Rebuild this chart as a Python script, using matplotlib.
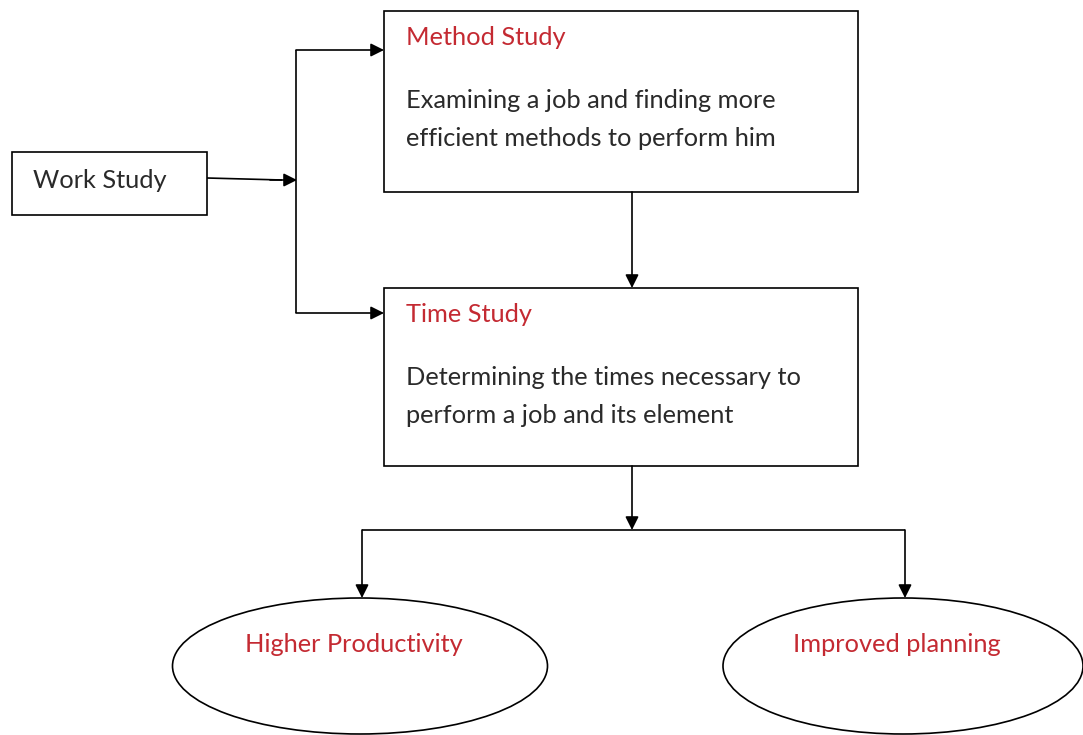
import matplotlib.pyplot as plt
from matplotlib.patches import Rectangle, Ellipse

# texts of the diagram
start_label = "Work Study"
box_titles = ["Method Study", "Time Study"]
box_bodies = [
    ["Examining a job and finding more", "efficient methods to perform him"],
    ["Determining the times necessary to", "perform a job and its element"],
]
outcomes = ["Higher Productivity", "Improved planning"]

RED = '#c42a32'
TXT = '#2a2a2a'
FONT = ['Lato', 'DejaVu Sans']
FS = 18.3
LW = 1.2

fig = plt.figure(figsize=(10.83, 7.35), dpi=100, facecolor='white')
ax = fig.add_axes([0, 0, 1, 1])
ax.set_xlim(0, 1083)
ax.set_ylim(735, 0)
ax.axis('off')


def arrow(x0, y0, x1, y1):
    ax.annotate('', xy=(x1, y1), xytext=(x0, y0),
                arrowprops=dict(arrowstyle='-|>', color='black', lw=LW,
                                mutation_scale=20, shrinkA=0, shrinkB=0))


def line(xs, ys):
    ax.plot(xs, ys, color='black', lw=LW, solid_capstyle='butt')


# work study box
ax.add_patch(Rectangle((12, 152), 195, 63, fill=False, ec='black', lw=LW))
ax.text(33, 180, start_label, fontsize=FS, color=TXT, family=FONT, va='center')

# method / time boxes
boxes = [(384, 11, 474, 181), (384, 288, 474, 178)]
for (x, y, w, h), title, body in zip(boxes, box_titles, box_bodies):
    ax.add_patch(Rectangle((x, y), w, h, fill=False, ec='black', lw=LW))
    ax.text(x + 22, y + 26, title, fontsize=FS, color=RED, family=FONT, va='center')
    for i, ln in enumerate(body):
        ax.text(x + 22, y + 89 + i * 38, ln, fontsize=FS, color=TXT, family=FONT, va='center')

# connectors from work study
line([207, 282], [178, 180])
arrow(270, 180, 297, 180)
line([296, 296], [50, 313])
arrow(296, 50, 384, 50)
arrow(296, 313, 384, 313)

# method -> time
arrow(632, 192, 632, 288)

# time -> outcomes
arrow(632, 466, 632, 530)
line([362, 905], [530, 530])
arrow(362, 530, 362, 598)
arrow(905, 530, 905, 598)

# outcome ellipses
ells = [(360, 666, 375, 136), (903, 666, 360, 136)]
for (cx, cy, w, h), lab in zip(ells, outcomes):
    ax.add_patch(Ellipse((cx, cy), w, h, fill=False, ec='black', lw=LW))
    ax.text(cx - 6, 645, lab, fontsize=FS, color=RED, family=FONT, ha='center', va='center')

fig.savefig('out.png', dpi=100, facecolor='white')
